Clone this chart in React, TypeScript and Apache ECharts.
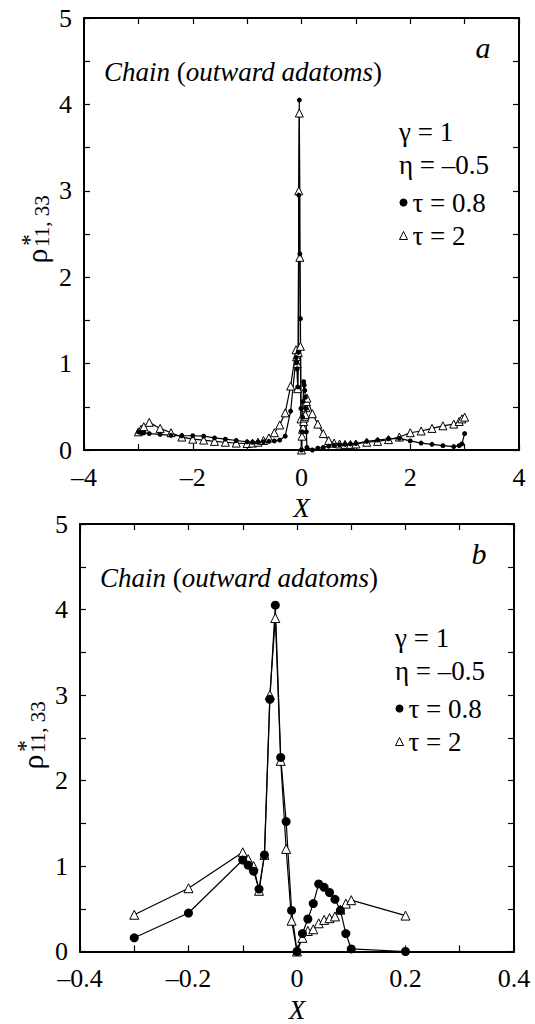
import React, { useEffect, useRef } from 'react';
import * as echarts from 'echarts';

const FONT = 'Times New Roman';

// Panel b (central region) — also part of panel a
const nearX = [-0.3, -0.2, -0.1, -0.09, -0.08, -0.07, -0.06, -0.05, -0.04, -0.03, -0.02, -0.01, 0, 0.01, 0.02, 0.03, 0.04, 0.05, 0.06, 0.07, 0.08, 0.09, 0.1, 0.2];
const nearTau08 = [0.16, 0.45, 1.07, 1.01, 0.94, 0.73, 1.13, 2.95, 4.05, 2.27, 1.52, 0.48, 0, 0.21, 0.38, 0.56, 0.79, 0.75, 0.69, 0.61, 0.48, 0.21, 0.03, 0];
const nearTau2 = [0.43, 0.74, 1.16, 1.08, 1.0, 0.71, 1.13, 3.0, 3.9, 2.23, 1.2, 0.36, 0, 0.16, 0.24, 0.26, 0.33, 0.37, 0.39, 0.41, 0.49, 0.56, 0.6, 0.42];

// Panel a, left wing
const leftX = [-3, -2.95, -2.9, -2.8, -2.6, -2.4, -2.2, -2.0, -1.8, -1.6, -1.4, -1.2, -1.0, -0.9, -0.8, -0.7, -0.6, -0.5, -0.4];
const leftTau08 = [0.21, 0.2, 0.2, 0.19, 0.18, 0.17, 0.165, 0.165, 0.16, 0.14, 0.125, 0.11, 0.095, 0.09, 0.09, 0.095, 0.1, 0.105, 0.115];
const leftTau2 = [0.21, 0.24, 0.27, 0.32, 0.25, 0.2, 0.15, 0.125, 0.115, 0.1, 0.09, 0.08, 0.075, 0.08, 0.09, 0.11, 0.14, 0.2, 0.29];

// Panel a, right wing
const rightX = [0.3, 0.4, 0.5, 0.6, 0.7, 0.8, 0.9, 1.0, 1.2, 1.4, 1.6, 1.8, 2.0, 2.2, 2.4, 2.6, 2.8, 2.9, 2.95, 3.0];
const rightTau08 = [0.02, 0.03, 0.045, 0.055, 0.06, 0.065, 0.07, 0.075, 0.1, 0.115, 0.13, 0.135, 0.105, 0.08, 0.066, 0.05, 0.04, 0.05, 0.07, 0.19];
const rightTau2 = [0.3, 0.19, 0.11, 0.08, 0.07, 0.065, 0.065, 0.07, 0.09, 0.1, 0.12, 0.15, 0.2, 0.22, 0.25, 0.28, 0.3, 0.33, 0.36, 0.38];

const seriesNames = ['τ = 0.8', 'τ = 2'];
const paramLines = ['γ = 1', 'η = –0.5'];
const titleText = '{i|Chain} ({i|outward adatoms})';

const pairs = (xs: number[], ys: number[]) => xs.map((x, i) => [x, ys[i]]);

const dash = (v: number, d: number) => {
  if (Math.abs(v) < 1e-9) return '0';
  return v.toFixed(d).replace('-', '–');
};

const grids = [
  { left: 84, top: 18, width: 435, height: 432 },
  { left: 80, top: 524, width: 434, height: 432 },
];

export default function App() {
  const ref = useRef<HTMLDivElement>(null);
  useEffect(() => {
    if (!ref.current) return;
    const chart = echarts.init(ref.current, undefined, { renderer: 'svg' });

    const axisLine = { show: true, onZero: false, lineStyle: { color: '#000', width: 2 } };
    const axisTick = { show: true, inside: true, length: 6, lineStyle: { color: '#000', width: 1.2 } };
    const labelStyle = { color: '#000', fontFamily: FONT, fontSize: 26 };

    const mkX = (gi: number, min: number, max: number, interval: number, fmt: (v: number) => string) => [
      {
        gridIndex: gi, type: 'value', min, max, interval, position: 'bottom',
        axisLine, axisTick, splitLine: { show: false },
        axisLabel: { ...labelStyle, lineHeight: 22, margin: 16, formatter: fmt },
        name: 'X', nameLocation: 'middle', nameGap: 46,
        nameTextStyle: { ...labelStyle, fontSize: 27, fontStyle: 'italic', lineHeight: 24 },
      },
      {
        gridIndex: gi, type: 'value', min, max, interval, position: 'top',
        axisLine, axisTick, splitLine: { show: false }, axisLabel: { show: false },
      },
    ];
    const mkY = (gi: number) => [
      {
        gridIndex: gi, type: 'value', min: 0, max: 5, interval: 0.5, position: 'left',
        axisLine, axisTick, splitLine: { show: false },
        axisLabel: { ...labelStyle, lineHeight: 20, margin: 12, formatter: (v: number) => (Math.abs(v - Math.round(v)) < 1e-9 ? String(Math.round(v)) : '') },
      },
      {
        gridIndex: gi, type: 'value', min: 0, max: 5, interval: 0.5, position: 'right',
        axisLine, axisTick, splitLine: { show: false }, axisLabel: { show: false },
      },
    ];

    const topX = [...leftX, ...nearX, ...rightX];
    const topC = [...leftTau08, ...nearTau08, ...rightTau08];
    const topT = [...leftTau2, ...nearTau2, ...rightTau2];

    const triStyle = { color: '#fff', borderColor: '#000', borderWidth: 1 };
    const dotStyle = { color: '#000' };
    const lineSt = { color: '#000', width: 1.2 };

    const series: any[] = [
      { name: seriesNames[1], type: 'line', xAxisIndex: 0, yAxisIndex: 0, data: pairs(topX, topT), symbol: 'triangle', symbolSize: 8, itemStyle: triStyle, lineStyle: lineSt },
      { name: seriesNames[0], type: 'line', xAxisIndex: 0, yAxisIndex: 0, data: pairs(topX, topC), symbol: 'circle', symbolSize: 5, itemStyle: dotStyle, lineStyle: lineSt },
      { name: seriesNames[1], type: 'line', xAxisIndex: 2, yAxisIndex: 2, data: pairs(nearX, nearTau2), symbol: 'triangle', symbolSize: 9, itemStyle: triStyle, lineStyle: lineSt },
      { name: seriesNames[0], type: 'line', xAxisIndex: 2, yAxisIndex: 2, data: pairs(nearX, nearTau08), symbol: 'circle', symbolSize: 9, itemStyle: dotStyle, lineStyle: lineSt },
    ];

    const legendData = [
      { name: seriesNames[0], icon: 'circle', itemStyle: { color: '#000', borderWidth: 0 } },
      { name: seriesNames[1], icon: 'triangle', itemStyle: { color: '#fff', borderColor: '#000', borderWidth: 1 } },
    ];

    const panelGraphics = (gi: number, letter: string, rhoX: number) => {
      const g = grids[gi];
      const dy = g.top - grids[0].top;
      const dx = g.left - grids[0].left;
      return [
        { type: 'text', x: 104 + dx, y: 72 + dy, style: { text: titleText, fontFamily: FONT, fontSize: 27, fill: '#000', verticalAlign: 'middle', rich: { i: { fontStyle: 'italic', fontFamily: FONT, fontSize: 27 } } } },
        { type: 'text', x: 483 + dx, y: 47 + dy, style: { text: letter, fontFamily: FONT, fontSize: 30, fontStyle: 'italic', fill: '#000', align: 'center', verticalAlign: 'middle' } },
        { type: 'text', x: 399 + dx, y: 132 + dy, style: { text: paramLines[0], fontFamily: FONT, fontSize: 27, fill: '#000', verticalAlign: 'middle' } },
        { type: 'text', x: 399 + dx, y: 165 + dy, style: { text: paramLines[1], fontFamily: FONT, fontSize: 27, fill: '#000', verticalAlign: 'middle' } },
        {
          type: 'group', x: rhoX, y: 256 + dy, rotation: Math.PI / 2,
          children: [
            { type: 'text', x: 0, y: -5, style: { text: 'ρ', fontFamily: FONT, fontSize: 30, fill: '#000', align: 'center', verticalAlign: 'middle' } },
            { type: 'text', x: 9, y: 1, style: { text: '11, 33', fontFamily: FONT, fontSize: 21, fill: '#000', align: 'left', verticalAlign: 'middle' } },
            { type: 'text', x: 10, y: -12, style: { text: '*', fontFamily: FONT, fontSize: 24, fill: '#000', align: 'left', verticalAlign: 'middle' } },
          ],
        },
      ];
    };

    chart.setOption({
      animation: false,
      backgroundColor: '#fff',
      textStyle: { fontFamily: FONT },
      grid: grids.map((g) => ({ ...g, containLabel: false })),
      xAxis: [
        ...mkX(0, -4, 4, 1, (v: number) => (Math.round(v) % 2 === 0 ? dash(v, 0) : '')),
        ...mkX(1, -0.4, 0.4, 0.1, (v: number) => (Math.abs(Math.round(v * 10)) % 2 === 0 ? dash(v, 1) : '')),
      ],
      yAxis: [...mkY(0), ...mkY(1)],
      legend: [0, 1].map((gi) => ({
        left: 394 + (grids[gi].left - grids[0].left),
        top: 184 + (grids[gi].top - grids[0].top),
        orient: 'vertical',
        itemWidth: 8,
        itemHeight: 8,
        itemGap: 6,
        selectedMode: false,
        textStyle: { fontFamily: FONT, fontSize: 27, color: '#000', lineHeight: 26 },
        data: legendData,
      })),
      graphic: [...panelGraphics(0, 'a', 41), ...panelGraphics(1, 'b', 37)],
      series,
    });
    return () => chart.dispose();
  }, []);
  return <div ref={ref} style={{ position: 'absolute', left: 0, top: 0, width: 535, height: 1024, background: '#fff' }} />;
}
